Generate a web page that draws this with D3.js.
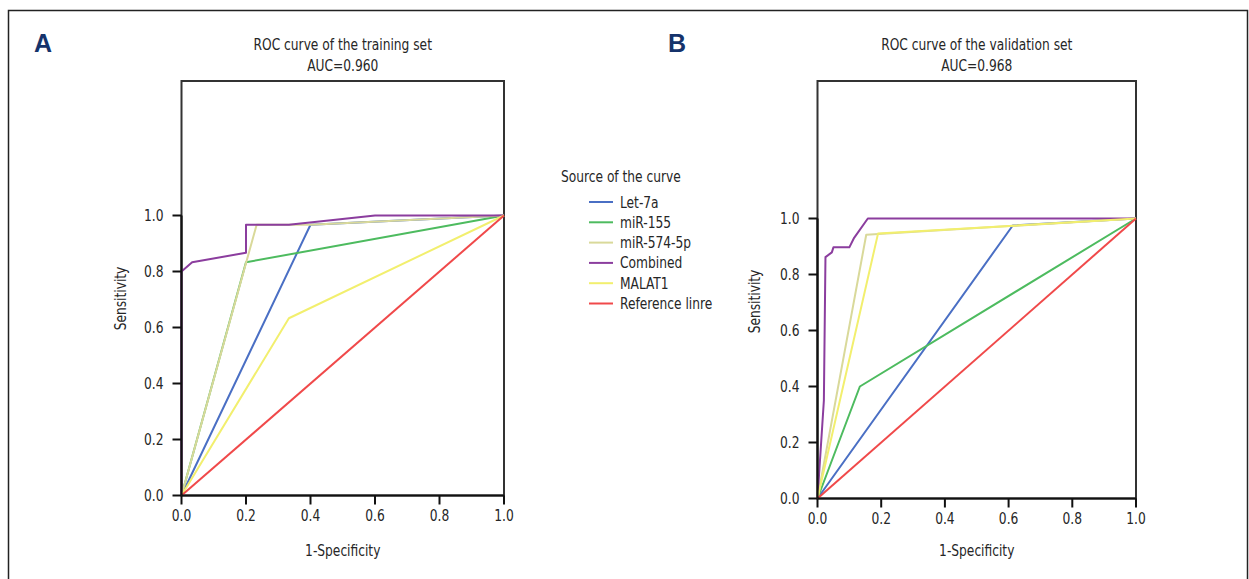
<!DOCTYPE html>
<html>
<head>
<meta charset="utf-8">
<script src="https://cdn.jsdelivr.net/npm/d3@7"></script>
<style>
  html, body { margin: 0; padding: 0; background: #fff; }
  svg { display: block; }
  text { font-family: "Liberation Sans Narrow", "DejaVu Sans Condensed", "Arial Narrow", sans-serif; fill: #262626; }
</style>
</head>
<body>
<svg id="chart" width="1249" height="579"></svg>
<script>
// Series names and colours (legend order)
const seriesNames = ["Let-7a", "miR-155", "miR-574-5p", "Combined", "MALAT1", "Reference linre"];
const seriesColors = ["#4a6fc4", "#4dbb5f", "#d9d99a", "#8b3d9e", "#f2ef6e", "#f0494a"];

// Tick values for both axes
const tickValues = [0, 0.2, 0.4, 0.6, 0.8, 1.0];

// Training set ROC points: [1-specificity, sensitivity]
const trainLet7a = [[0, 0], [0.4, 0.967], [1, 1]];
const trainMiR155 = [[0, 0], [0.2, 0.833], [1, 1]];
const trainMiR574 = [[0, 0], [0.233, 0.967], [0.4, 0.967], [1, 1]];
const trainCombined = [[0, 0], [0, 0.8], [0.033, 0.833], [0.2, 0.867], [0.2, 0.967], [0.333, 0.967], [0.6, 1], [1, 1]];
const trainMALAT1 = [[0, 0], [0.333, 0.633], [1, 1]];
const trainReference = [[0, 0], [1, 1]];

// Validation set ROC points
const validLet7a = [[0, 0], [0.613, 0.975], [1, 1]];
const validMiR155 = [[0, 0], [0.133, 0.4], [1, 1]];
const validMiR574 = [[0, 0], [0.153, 0.942], [1, 1]];
const validCombined = [[0, 0], [0.02, 0.35], [0.025, 0.862], [0.045, 0.879], [0.05, 0.897], [0.1, 0.897], [0.115, 0.931], [0.158, 1], [1, 1]];
const validMALAT1 = [[0, 0], [0.19, 0.946], [1, 1]];
const validReference = [[0, 0], [1, 1]];

const panels = [
  {
    letter: "A", title: "ROC curve of the training set", auc: "AUC=0.960",
    series: [trainLet7a, trainMiR155, trainMiR574, trainCombined, trainMALAT1, trainReference],
    x0: 181.5, x1: 504, y0: 495.5, y1: 215.5, boxTop: 81, letterX: 34, yTitleX: 126
  },
  {
    letter: "B", title: "ROC curve of the validation set", auc: "AUC=0.968",
    series: [validLet7a, validMiR155, validMiR574, validCombined, validMALAT1, validReference],
    x0: 817.5, x1: 1136, y0: 498.5, y1: 218.5, boxTop: 81, letterX: 668, yTitleX: 760
  }
];

const svg = d3.select("#chart");

// Outer frame
svg.append("rect")
  .attr("x", 8.5).attr("y", 10.5)
  .attr("width", 1239).attr("height", 600)
  .attr("fill", "none").attr("stroke", "#222").attr("stroke-width", 1.5);

panels.forEach(p => {
  const x = d3.scaleLinear().domain([0, 1]).range([p.x0, p.x1]);
  const y = d3.scaleLinear().domain([0, 1]).range([p.y0, p.y1]);
  const cx = (p.x0 + p.x1) / 2;
  const g = svg.append("g");

  // Panel letter
  g.append("text")
    .attr("class", "letter")
    .attr("x", p.letterX).attr("y", 52)
    .style("font-family", "'Liberation Sans', Arial, sans-serif")
    .style("font-weight", "bold").style("font-size", "25px")
    .style("fill", "#15336b")
    .text(p.letter);

  // Titles
  g.append("text").attr("x", cx).attr("y", 50)
    .attr("text-anchor", "middle").style("font-size", "16px").text(p.title);
  g.append("text").attr("x", cx).attr("y", 71)
    .attr("text-anchor", "middle").style("font-size", "16px").text(p.auc);

  // Plot frame
  g.append("rect")
    .attr("x", p.x0).attr("y", p.boxTop)
    .attr("width", p.x1 - p.x0).attr("height", p.y0 - p.boxTop)
    .attr("fill", "none").attr("stroke", "#333").attr("stroke-width", 2);

  // Curves
  const line = d3.line().x(d => x(d[0])).y(d => y(d[1]));
  p.series.forEach((pts, i) => {
    g.append("path")
      .datum(pts)
      .attr("d", line)
      .attr("fill", "none")
      .attr("stroke", seriesColors[i])
      .attr("stroke-width", 2)
      .attr("stroke-linejoin", "round");
  });

  // Axes
  const fmt = d3.format(".1f");
  const xAxis = g.append("g")
    .attr("transform", `translate(0,${p.y0})`)
    .call(d3.axisBottom(x).tickValues(tickValues).tickFormat(fmt).tickSize(9).tickPadding(5).tickSizeOuter(0).offset(0));
  const yAxis = g.append("g")
    .attr("transform", `translate(${p.x0},0)`)
    .call(d3.axisLeft(y).tickValues(tickValues).tickFormat(fmt).tickSize(9).tickPadding(9).tickSizeOuter(0).offset(0));
  [xAxis, yAxis].forEach(a => {
    a.selectAll("path.domain").attr("stroke", "#111").attr("stroke-width", 2.2);
    a.selectAll(".tick line").attr("stroke", "#111").attr("stroke-width", 2);
    a.selectAll(".tick text")
      .attr("font-family", null).attr("font-size", null)
      .style("font-size", "16px").attr("fill", "#262626");
  });

  // Axis titles
  g.append("text").attr("x", cx).attr("y", 556)
    .attr("text-anchor", "middle").style("font-size", "16px").text("1-Specificity");
  g.append("text")
    .attr("transform", `translate(${p.yTitleX},${y(0.7) - 1}) rotate(-90)`)
    .attr("text-anchor", "middle").style("font-size", "16px").text("Sensitivity");
});

// Legend
const legend = svg.append("g");
legend.append("text").attr("x", 561).attr("y", 182).style("font-size", "16px").text("Source of the curve");
seriesNames.forEach((name, i) => {
  const yy = 202 + i * 20.3;
  legend.append("line")
    .attr("x1", 589).attr("x2", 613).attr("y1", yy).attr("y2", yy)
    .attr("stroke", seriesColors[i]).attr("stroke-width", 2);
  legend.append("text").attr("x", 620).attr("y", yy + 5.5)
    .style("font-size", "16px").text(name);
});

// Narrow the body text horizontally to a condensed face
svg.selectAll("text:not(.letter)").each(function () {
  const w = this.getComputedTextLength();
  d3.select(this)
    .attr("textLength", (w * 0.85).toFixed(1))
    .attr("lengthAdjust", "spacingAndGlyphs");
});
</script>
</body>
</html>
